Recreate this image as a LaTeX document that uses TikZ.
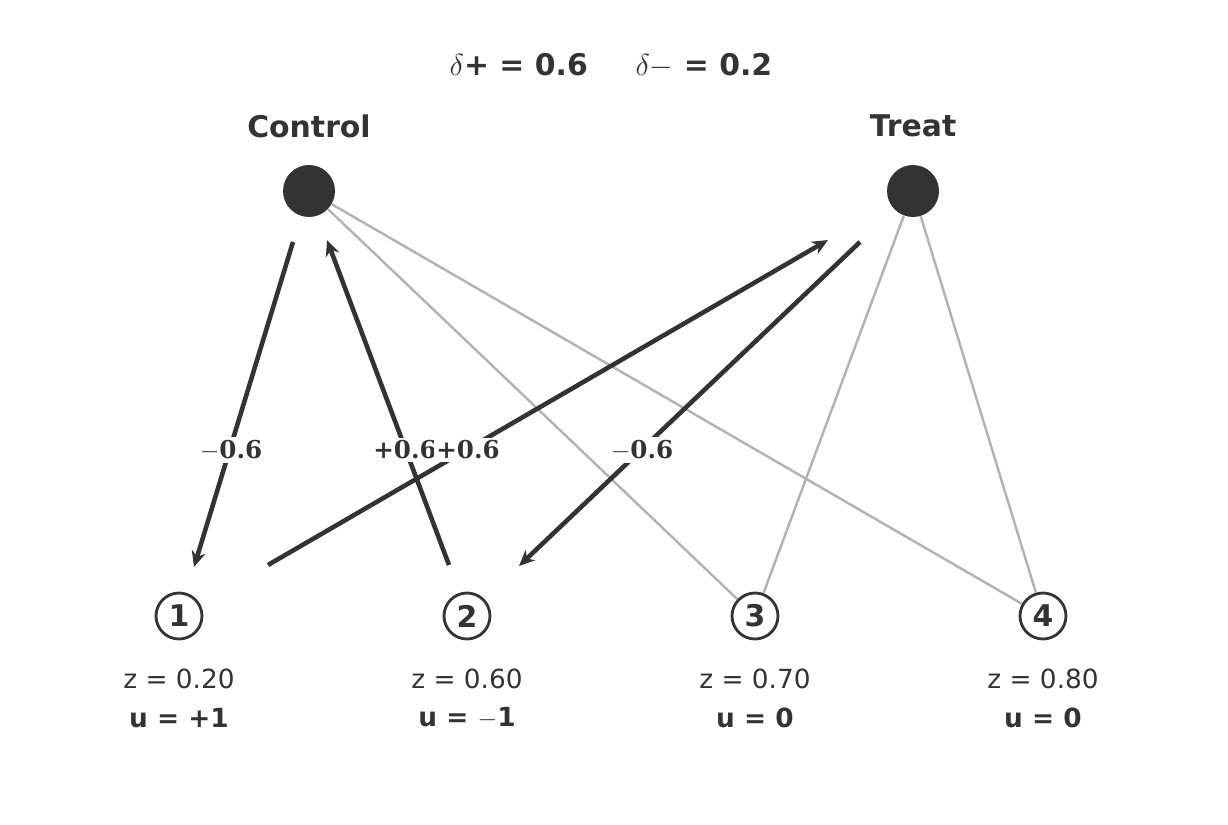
\documentclass[tikz,border=0pt]{standalone}
\usepackage{fontspec}
\setmainfont{DejaVu Sans}
\newfontfamily\lblfont{DejaVu Serif}
\usetikzlibrary{arrows.meta}
\definecolor{ink}{HTML}{333333}
\definecolor{edgegray}{HTML}{B3B3B3}
\tikzset{
  arm/.style={circle, fill=ink, minimum size=1.04cm, inner sep=0pt},
  unit/.style={circle, draw=ink, line width=1.6pt, fill=white, minimum size=0.92cm, inner sep=0pt, text=ink, font=\fontsize{17}{17}\selectfont\bfseries},
  link/.style={edgegray, line width=1.4pt},
  flow/.style={ink, line width=2.6pt, -{Stealth[length=9pt,width=8pt]}},
  delta/.style={fill=white, inner sep=1.5pt, text=ink, font=\lblfont\fontsize{14}{14}\selectfont\bfseries},
}
\begin{document}
\begin{tikzpicture}[x=0.02cm, y=-0.02cm]
      \useasboundingbox (0,0) rectangle (1228,825);
      \node[text=ink, font=\fontsize{17}{17}\selectfont\bfseries] (head) at (611,66) {$\delta$+ = 0.6\hspace{1.6em}$\delta$$-$ = 0.2};

      \node[arm] (control) at (309,191) {};
      \node[arm] (treat) at (913,191) {};
      \node[text=ink, font=\fontsize{17}{17}\selectfont\bfseries] (controllbl) at (309,126) {Control};
      \node[text=ink, font=\fontsize{17}{17}\selectfont\bfseries] (treatlbl) at (913,126) {Treat};

      \foreach \i/\x/\z/\u in {1/179/0.20/+1, 2/467/0.60/$-$1, 3/755/0.70/0, 4/1043/0.80/0} {
        \node[unit] (u\i) at (\x,616) {\i};
        \node[text=ink, font=\fontsize{15}{15}\selectfont] (z\i) at (\x,679) {z = \z};
        \node[text=ink, font=\fontsize{15}{15}\selectfont\bfseries] (v\i) at (\x,718) {u = \u};
      }

      \draw[link] (control) -- (u3);
      \draw[link] (control) -- (u4);
      \draw[link] (treat) -- (u3);
      \draw[link] (treat) -- (u4);

      \coordinate (c1) at (293,242);
      \coordinate (c2) at (194,567);
      \coordinate (c3) at (449,565);
      \coordinate (c4) at (327,240);
      \coordinate (c5) at (268,565);
      \coordinate (c6) at (828,240);
      \coordinate (c7) at (860,242);
      \coordinate (c8) at (519,566);

      \draw[flow] (c1) -- (c2);
      \draw[flow] (c3) -- (c4);
      \draw[flow] (c5) -- (c6);
      \draw[flow] (c7) -- (c8);

      \node[delta] (d1) at (231,450) {$-$0.6};
      \node[delta] (d2) at (405,450) {+0.6};
      \node[delta] (d3) at (468,450) {+0.6};
      \node[delta] (d4) at (642,450) {$-$0.6};
\end{tikzpicture}
\end{document}
